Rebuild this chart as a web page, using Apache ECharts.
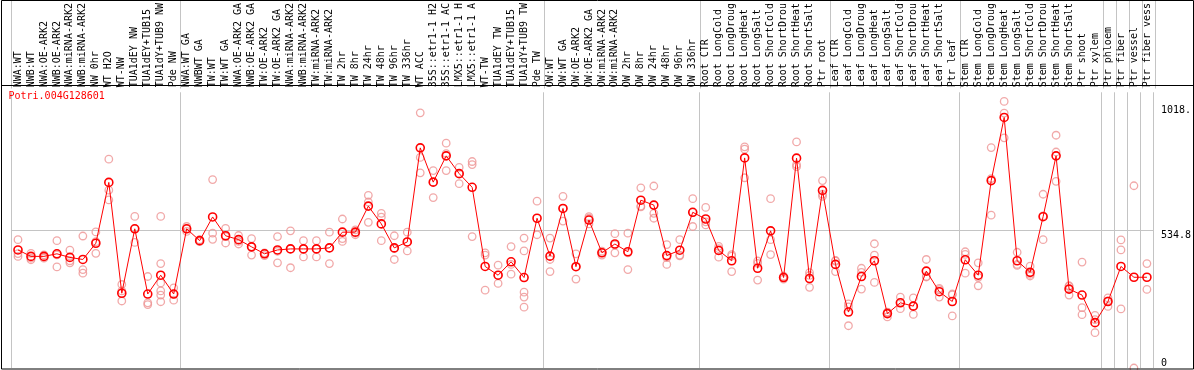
<!DOCTYPE html>
<html><head><meta charset="utf-8">
<script src="https://cdn.jsdelivr.net/npm/echarts@6/dist/echarts.min.js"></script>
<style>html,body{margin:0;padding:0;background:#fff}#c{width:1194px;height:370px}</style>
</head><body><div id="c"></div>
<script>
const geneId = 'Potri.004G128601';
const categories = [
  'NWA:WT','NWB:WT','NWA:OE-ARK2','NWB:OE-ARK2','NWA:miRNA-ARK2','NWB:miRNA-ARK2','NW 0hr','WT H2O','WT-NW',
  'TUA1dEY NW','TUA1dEY+TUB15','TUA1dY+TUB9 NW','Pde NW',
  'NWA:WT GA','NWBWT GA','TW:WT','TW:WT GA','NWA:OE-ARK2 GA','NWB:OE-ARK2 GA','TW:OE-ARK2','TW:OE-ARK2 GA',
  'NWA:miRNA-ARK2','NWB:miRNA-ARK2','TW:miRNA-ARK2','TW:miRNA-ARK2','TW 2hr','TW 8hr','TW 24hr','TW 48hr',
  'TW 96hr','TW 336hr','WT ACC','35S::etr1-1 H2','35S::etr1-1 AC','LMX5::etr1-1 H','LMX5::etr1-1 A','WT-TW',
  'TUA1dEY TW','TUA1dEY+TUB15','TUA1dY+TUB9 TW','Pde TW',
  'OW:WT','OW:WT GA','OW:OE-ARK2','OW:OE-ARK2 GA','OW:miRNA-ARK2','OW:miRNA-ARK2','OW 2hr','OW 8hr','OW 24hr',
  'OW 48hr','OW 96hr','OW 336hr',
  'Root CTR','Root LongCold','Root LongDroug','Root LongHeat','Root LongSalt','Root ShortCold','Root ShortDrou',
  'Root ShortHeat','Root ShortSalt','Ptr root',
  'Leaf CTR','Leaf LongCold','Leaf LongDroug','Leaf LongHeat','Leaf LongSalt','Leaf ShortCold','Leaf ShortDrou',
  'Leaf ShortHeat','Leaf ShortSalt','Ptr leaf',
  'Stem CTR','Stem LongCold','Stem LongDroug','Stem LongHeat','Stem LongSalt','Stem ShortCold','Stem ShortDrou',
  'Stem ShortHeat','Stem ShortSalt','Ptr shoot','Ptr xylem',
  'Ptr phloem','Ptr fiber','Ptr vessel','Ptr fiber vess'
];
// index of first category of each separated group
const groupStarts = [0, 13, 41, 53, 63, 73, 84, 85, 86, 87];
const meanValues = [
  458, 433, 433, 443, 429, 421, 484, 720, 290, 540, 287, 360, 287,
  540, 494, 586, 513, 498, 470, 443, 458, 462, 462, 462, 466, 527, 527, 628, 559, 466, 489, 854, 721, 823, 754, 701, 394, 360, 412, 351, 581,
  434, 619, 393, 574, 447, 481, 451, 651, 632, 436, 457, 604,
  578, 456, 416, 815, 387, 532, 351, 814, 347, 689,
  402, 217, 355, 416, 211, 253, 240, 376, 296, 258,
  420, 360, 727, 972, 416, 371, 587, 823, 306, 283, 176,
  258, 394, 352, 352
];
const replicateValues = [
  [498,444,433],[445,426,420],[439,430,426],[494,439,392],[457,416,408],[512,382,368],[528,490,445],[810,690,652],
  [324,299,260],[588,540,487],[355,253,246],[588,405,330,299,283,257],[311,287,263],
  [530,540,549],[490,494,498],[731,523,499],[542,510,485],[514,491,481],[502,470,438],[447,443,436],[510,453,408],
  [532,462,389],[494,462,431],[494,462,431],[527,466,405],[578,502,491],[536,523,517],[670,644,565],[600,585,494],
  [513,463,421],[527,489,454],[990,817,757],[766,721,661],[872,832,766],[778,754,715],[801,789,510],[447,438,302],
  [399,360,328],[471,402,364],[504,454,294,275,236],[647,517],
  [504,421,374],[666,619,570],[443,393,345],[587,581,559],[453,447,438],[521,478,447],[523,447,382],[699,628,625],
  [706,600,581],[479,428,402],[498,438,435],[657,604,549],
  [623,567,555],[472,463,430],[440,434,374],[858,849,738],[415,406,341],[657,498,440],[356,352,345],[877,789,781],
  [370,359,313],[727,674,666],
  [417,415,374],[249,237,164],[387,371,306],[482,438,332],[217,216,198],[275,254,230],[272,241,208],[421,355,353],
  [309,304,275],[287,284,202],
  [451,441,368],[408,352,319],[855,735,593],[1034,989,893],[449,402,398],[395,363,357],[674,590,498],[903,838,724],
  [319,317,283],[411,234,207],[204,188,137],
  [272,260,239],[497,458,229],[707,0],[405,305]
];
const yTickValues = [0, 534.8, 1018];
const yTickLabels = ['0', '534.8', '1018.'];
const yMax = 1069.6;

const mono = 'DejaVu Sans Mono';
const isBoundary = (i) => groupStarts.indexOf(i) >= 0;
const labelFor = (v) => { const k = yTickValues.indexOf(v); return k >= 0 ? yTickLabels[k] : ''; };
const repData = [];
replicateValues.forEach((reps, i) => reps.forEach(v => repData.push([i, v])));

const chart = echarts.init(document.getElementById('c'), null, {renderer: 'canvas'});
const vSplit = {show: true, showMinLine: true, showMaxLine: true, interval: (i) => isBoundary(i),
  lineStyle: {color: '#c4c4c4', width: 1}};
chart.setOption({
  animation: false,
  title: {text: geneId, left: 8.5, top: 91, padding: 0,
    textStyle: {color: '#ff0000', fontFamily: mono, fontSize: 10, fontWeight: 'normal'}},
  grid: [
    {left: 11.5, right: 38.5, top: 88.5, bottom: 2},
    {left: 11.5, right: 38.5, top: 0, height: 88.5}
  ],
  xAxis: [
    {type: 'category', gridIndex: 0, data: categories, position: 'top', boundaryGap: true,
     axisLine: {show: false}, axisTick: {show: false},
     axisLabel: {interval: 0, rotate: 90, margin: 5, fontFamily: mono, fontSize: 10, color: '#000'},
     splitLine: vSplit},
    {type: 'category', gridIndex: 1, data: categories, boundaryGap: true,
     axisLine: {show: false}, axisTick: {show: false}, axisLabel: {show: false}, splitLine: vSplit}
  ],
  yAxis: [
    {type: 'value', gridIndex: 0, position: 'right', min: 0, max: yMax,
     axisLine: {show: false}, axisTick: {show: false, customValues: [yTickValues[1]]},
     splitLine: {show: true, lineStyle: {color: '#c4c4c4', width: 1}},
     axisLabel: {customValues: yTickValues.slice(1), formatter: labelFor, verticalAlign: 'top', align: 'left',
       margin: 7.5, fontFamily: mono, fontSize: 10, color: '#000'}},
    {type: 'value', gridIndex: 0, position: 'right', min: 0, max: yMax,
     axisLine: {show: false}, axisTick: {show: false}, splitLine: {show: false},
     axisLabel: {customValues: [yTickValues[0]], formatter: labelFor, verticalAlign: 'bottom', align: 'left',
       margin: 7.5, fontFamily: mono, fontSize: 10, color: '#000'}},
    {type: 'value', gridIndex: 1, show: false}
  ],
  graphic: [
    {type: 'rect', silent: true, z: 100, shape: {x: 1.5, y: 0.5, width: 1192, height: 368.5},
     style: {fill: 'transparent', stroke: '#000', lineWidth: 1}},
    {type: 'line', silent: true, z: 100, shape: {x1: 1.5, y1: 85.5, x2: 1193.5, y2: 85.5},
     style: {stroke: '#000', lineWidth: 1}}
  ],
  series: [
    {type: 'scatter', xAxisIndex: 0, yAxisIndex: 0, data: repData, symbol: 'circle', symbolSize: 7.5,
     itemStyle: {color: 'rgba(0,0,0,0)', borderColor: '#ee9494', borderWidth: 1.3}, z: 2, silent: true, clip: false},
    {type: 'line', xAxisIndex: 0, yAxisIndex: 0, data: meanValues, symbol: 'circle', symbolSize: 8, showSymbol: true,
     lineStyle: {color: '#ff0000', width: 1}, itemStyle: {color: 'rgba(0,0,0,0)', borderColor: '#ff0000', borderWidth: 1.6},
     z: 3, silent: true}
  ]
});
</script></body></html>
